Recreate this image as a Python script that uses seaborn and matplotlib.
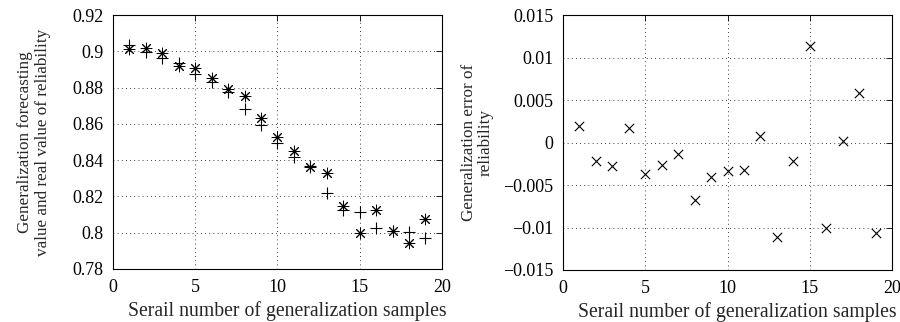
import numpy as np
import pandas as pd
import matplotlib
matplotlib.use('Agg')
import matplotlib.pyplot as plt
import seaborn as sns

samples = list(range(1, 20))
forecast = [0.9015, 0.9020, 0.8990, 0.8918, 0.8910, 0.8855, 0.8790, 0.8752,
            0.8635, 0.8530, 0.8448, 0.8360, 0.8332, 0.8145, 0.7998, 0.8125,
            0.8010, 0.7945, 0.8075]
real = [0.9035, 0.8998, 0.8963, 0.8935, 0.8873, 0.8829, 0.8777, 0.8684,
        0.8595, 0.8496, 0.8416, 0.8368, 0.8221, 0.8123, 0.8112, 0.8025,
        0.8012, 0.8003, 0.7969]
error = [0.0020, -0.0022, -0.0027, 0.0017, -0.0037, -0.0026, -0.0013, -0.0068,
         -0.0040, -0.0034, -0.0032, 0.0008, -0.0111, -0.0022, 0.0114, -0.0100,
         0.0002, 0.0058, -0.0106]

xlabel = 'Serail number of generalization samples'


def style_axes(ax):
    """MATLAB-like box, inward ticks and dotted grid."""
    ax.tick_params(direction='in', top=True, right=True, length=4,
                   width=0.6, labelsize=13, pad=7, colors='black')
    ax.grid(True, linestyle=(0, (1, 4)), color='black', linewidth=0.6)
    for s in ax.spines.values():
        s.set_visible(True)
        s.set_color('black')
        s.set_linewidth(0.8)
    ax.set_xlabel(xlabel, fontsize=14.2)
    ax.xaxis.set_label_coords(0.53, -0.125)


def main():
    sns.set_style('white')
    plt.rcParams['font.family'] = ['Liberation Serif', 'DejaVu Serif']
    plt.rcParams['axes.unicode_minus'] = True

    fig = plt.figure(figsize=(9, 3.22), dpi=100)
    ax1 = fig.add_axes([0.1256, 0.1646, 0.3654, 0.7884])
    ax2 = fig.add_axes([0.6256, 0.1615, 0.3655, 0.7915])

    df = pd.DataFrame({'n': samples, 'forecast': forecast, 'real': real,
                       'error': error})

    sns.scatterplot(data=df, x='n', y='real', marker='+', s=80, color='black',
                    linewidth=0.8, ax=ax1, zorder=3)
    sns.scatterplot(data=df, x='n', y='forecast', marker=(8, 2, 0), s=60,
                    color='black', linewidth=0.7, ax=ax1, zorder=4)
    sns.scatterplot(data=df, x='n', y='forecast', marker='o', s=5,
                    color='black', linewidth=0, ax=ax1, zorder=5)
    ax1.set_xlim(0, 20)
    ax1.set_ylim(0.78, 0.92)
    ax1.set_xticks([0, 5, 10, 15, 20])
    ax1.set_yticks(np.arange(0.78, 0.9201, 0.02))
    ax1.set_yticklabels(['0.78', '0.8', '0.82', '0.84', '0.86', '0.88', '0.9', '0.92'])
    style_axes(ax1)
    ax1.set_ylabel('Generalization forecasting\nvalue and real value of reliability',
                   fontsize=12.3, linespacing=1.1)
    ax1.yaxis.set_label_coords(-0.19, 0.5)

    sns.scatterplot(data=df, x='n', y='error', marker='x', s=45, color='black',
                    linewidth=0.8, ax=ax2, zorder=3)
    ax2.set_xlim(0, 20)
    ax2.set_ylim(-0.015, 0.015)
    ax2.set_xticks([0, 5, 10, 15, 20])
    ax2.set_yticks([-0.015, -0.01, -0.005, 0, 0.005, 0.01, 0.015])
    ax2.set_yticklabels(['\u22120.015', '\u22120.01', '\u22120.005', '0',
                         '0.005', '0.01', '0.015'])
    style_axes(ax2)
    ax2.set_ylabel('Generalization error of\nreliability', fontsize=12.3,
                   linespacing=1.1)
    ax2.yaxis.set_label_coords(-0.21, 0.5)

    fig.savefig('out.png', dpi=100)


if __name__ == '__main__':
    main()
